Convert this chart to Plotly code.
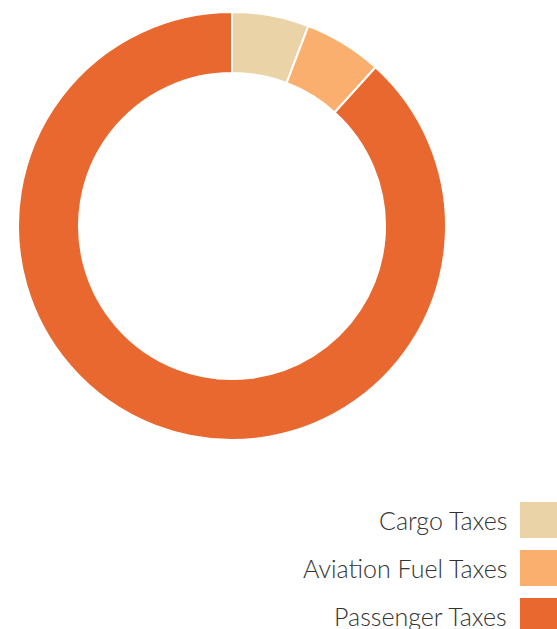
import plotly.graph_objects as go

labels = ["Cargo Taxes", "Aviation Fuel Taxes", "Passenger Taxes"]
values = [5.8, 5.9, 88.3]
colors = ["#EBD3A8", "#FAAF6E", "#E86830"]

W, H = 557, 629

def px(x):
    return x / W

def py(y):
    return 1 - y / H

fig = go.Figure(go.Pie(
    labels=labels, values=values, hole=0.715, sort=False,
    direction="clockwise", rotation=0,
    marker=dict(colors=colors, line=dict(color="white", width=2)),
    textinfo="none", hoverinfo="label+percent",
    domain=dict(x=[px(18), px(446)], y=[py(440), py(12)]),
    showlegend=False,
))

shapes = []
annotations = []
tops = [502, 550, 598]
for lab, col, t in zip(labels, colors, tops):
    shapes.append(dict(type="rect", xref="paper", yref="paper",
                       x0=px(520), x1=px(557), y0=py(t + 36), y1=py(t),
                       fillcolor=col, line=dict(width=0)))
    annotations.append(dict(xref="paper", yref="paper", x=px(509), y=py(t + 18),
                            xanchor="right", yanchor="middle", showarrow=False,
                            text=lab, font=dict(family="Lato", size=25, color="#333333", weight=300)))

fig.update_layout(width=W, height=H, margin=dict(l=0, r=0, t=0, b=0),
                  paper_bgcolor="white", plot_bgcolor="white",
                  shapes=shapes, annotations=annotations)

fig.write_html("out.html", config={"displayModeBar": False},
               post_script="document.body.style.margin='0';document.body.style.overflow='hidden';")
